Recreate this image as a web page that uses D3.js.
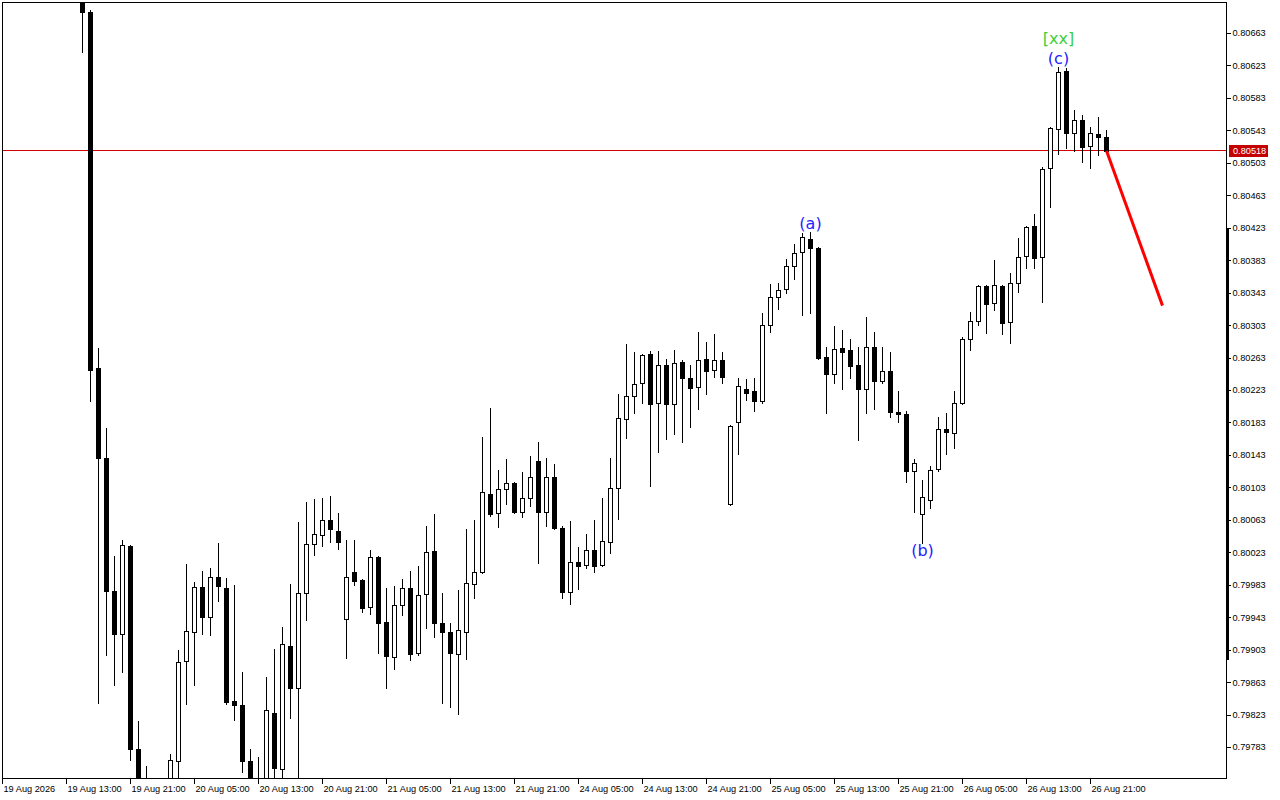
<!DOCTYPE html>
<html><head><meta charset="utf-8">
<script src="https://cdn.jsdelivr.net/npm/d3@7"></script>
<style>html,body{margin:0;padding:0;background:#fff;overflow:hidden}</style>
</head><body>
<svg id="chart" width="1280" height="800"></svg>
<script>
// ---- data (H1 bars, first drawn bar is index 10; index 0 = 19 Aug 05:00) ----
const firstBar = 10;
const open = [
0.80716,0.80689,0.80250,0.80139,0.79975,0.79922,0.80031,0.79780,0.79730,0.79718,
0.79700,0.79730,0.79766,0.79889,0.79925,0.79980,0.79943,0.79992,0.79979,0.79840,
0.79835,0.79766,0.79720,0.79730,0.79825,0.79756,0.79907,0.79856,0.79973,0.80033,
0.80044,0.80063,0.80049,0.79941,0.79999,0.79989,0.79956,0.80017,0.79937,0.79894,
0.79958,0.79979,0.79899,0.79972,0.80025,0.79936,0.79925,0.79898,0.79925,0.79984,
0.79999,0.80095,0.80071,0.80101,0.80108,0.80073,0.80090,0.80135,0.80073,0.80116,
0.80053,0.79974,0.80011,0.80007,0.80026,0.80007,0.80036,0.80102,0.80187,0.80216,
0.80232,0.80267,0.80207,0.80254,0.80206,0.80258,0.80238,0.80227,0.80261,0.80248,
0.80260,0.80082,0.80184,0.80224,0.80222,0.80209,0.80303,0.80338,0.80347,0.80376,
0.80393,0.80409,0.80398,0.80264,0.80243,0.80275,0.80272,0.80254,0.80224,0.80276,
0.80234,0.80246,0.80196,0.80193,0.80123,0.80070,0.80087,0.80126,0.80175,0.80170,
0.80207,0.80286,0.80308,0.80351,0.80330,0.80351,0.80307,0.80355,0.80388,0.80425,
0.80387,0.80497,0.80545,0.80616,0.80540,0.80556,0.80524,0.80538,0.80535];
const high = [
0.80728,0.80691,0.80275,0.80176,0.80018,0.80038,0.80032,0.79815,0.79760,0.79735,
0.79738,0.79774,0.79903,0.80009,0.79986,0.80000,0.80004,0.80034,0.79991,0.79983,
0.79875,0.79780,0.79771,0.79869,0.79904,0.79931,0.79984,0.80060,0.80085,0.80089,
0.80090,0.80092,0.80071,0.80038,0.80038,0.79990,0.80026,0.80018,0.79979,0.79981,
0.79990,0.80000,0.80006,0.80055,0.80070,0.79973,0.79936,0.79977,0.80052,0.80063,
0.80165,0.80201,0.80124,0.80138,0.80109,0.80122,0.80142,0.80159,0.80139,0.80132,
0.80055,0.80062,0.80030,0.80045,0.80063,0.80090,0.80139,0.80218,0.80280,0.80270,
0.80267,0.80271,0.80271,0.80261,0.80272,0.80260,0.80254,0.80294,0.80282,0.80292,
0.80270,0.80180,0.80238,0.80237,0.80238,0.80318,0.80354,0.80355,0.80384,0.80403,
0.80416,0.80418,0.80399,0.80276,0.80302,0.80297,0.80286,0.80276,0.80313,0.80294,
0.80276,0.80270,0.80222,0.80197,0.80138,0.80112,0.80129,0.80190,0.80195,0.80222,
0.80288,0.80319,0.80352,0.80352,0.80383,0.80352,0.80367,0.80410,0.80425,0.80440,
0.80498,0.80547,0.80621,0.80620,0.80568,0.80562,0.80547,0.80559,0.80543];
const low = [
0.80640,0.80209,0.79837,0.79896,0.79859,0.79875,0.79767,0.79705,0.79693,0.79690,
0.79685,0.79715,0.79736,0.79836,0.79859,0.79922,0.79921,0.79963,0.79836,0.79816,
0.79752,0.79718,0.79705,0.79718,0.79736,0.79740,0.79819,0.79730,0.79940,0.80020,
0.80031,0.80036,0.80027,0.79893,0.79983,0.79949,0.79947,0.79899,0.79856,0.79879,
0.79946,0.79890,0.79896,0.79930,0.79919,0.79837,0.79832,0.79824,0.79892,0.79967,
0.79997,0.80068,0.80054,0.80082,0.80071,0.80066,0.80080,0.80010,0.80055,0.80052,
0.79967,0.79959,0.79978,0.80004,0.79999,0.80006,0.80022,0.80064,0.80164,0.80195,
0.80207,0.80105,0.80147,0.80163,0.80169,0.80159,0.80177,0.80200,0.80218,0.80239,
0.80232,0.80081,0.80144,0.80211,0.80197,0.80207,0.80294,0.80323,0.80343,0.80360,
0.80315,0.80318,0.80261,0.80195,0.80232,0.80224,0.80238,0.80161,0.80195,0.80200,
0.80232,0.80190,0.80184,0.80110,0.80073,0.80034,0.80078,0.80123,0.80144,0.80151,
0.80206,0.80272,0.80303,0.80293,0.80322,0.80292,0.80281,0.80344,0.80373,0.80373,
0.80331,0.80449,0.80514,0.80521,0.80518,0.80504,0.80497,0.80513,0.80517];
const close = [
0.80689,0.80248,0.80139,0.79975,0.79922,0.80032,0.79780,0.79718,0.79718,0.79700,
0.79725,0.79767,0.79888,0.79926,0.79980,0.79943,0.79992,0.79981,0.79838,0.79835,
0.79766,0.79730,0.79740,0.79829,0.79757,0.79910,0.79856,0.79973,0.80033,0.80045,
0.80063,0.80052,0.80036,0.79992,0.79988,0.79954,0.80017,0.79936,0.79895,0.79958,
0.79979,0.79898,0.79970,0.80023,0.79936,0.79925,0.79899,0.79927,0.79985,0.79999,
0.80097,0.80070,0.80101,0.80108,0.80073,0.80090,0.80116,0.80073,0.80116,0.80053,
0.79974,0.80011,0.80006,0.80026,0.80006,0.80037,0.80102,0.80189,0.80216,0.80230,
0.80266,0.80206,0.80254,0.80206,0.80256,0.80238,0.80225,0.80260,0.80246,0.80260,
0.80239,0.80179,0.80228,0.80219,0.80209,0.80303,0.80338,0.80346,0.80376,0.80392,
0.80412,0.80398,0.80262,0.80243,0.80273,0.80270,0.80253,0.80224,0.80276,0.80234,
0.80246,0.80196,0.80193,0.80123,0.80133,0.80091,0.80124,0.80175,0.80171,0.80207,
0.80286,0.80308,0.80351,0.80329,0.80352,0.80306,0.80355,0.80387,0.80424,0.80386,
0.80495,0.80546,0.80615,0.80540,0.80556,0.80522,0.80540,0.80535,0.80518];

const timeTickBars = [0,8,16,24,32,40,48,56,64,72,80,88,96,104,112,120,128,136];
const timeTickLabels = ["19 Aug 2026","19 Aug 13:00","19 Aug 21:00","20 Aug 05:00","20 Aug 13:00",
  "20 Aug 21:00","21 Aug 05:00","21 Aug 13:00","21 Aug 21:00","24 Aug 05:00","24 Aug 13:00",
  "24 Aug 21:00","25 Aug 05:00","25 Aug 13:00","25 Aug 21:00","26 Aug 05:00","26 Aug 13:00","26 Aug 21:00"];
const priceTicks = [0.79783,0.79823,0.79863,0.79903,0.79943,0.79983,0.80023,0.80063,0.80103,0.80143,
  0.80183,0.80223,0.80263,0.80303,0.80343,0.80383,0.80423,0.80463,0.80503,0.80543,0.80583,0.80623,0.80663];
const lastPrice = 0.80518;
const projBars = [138, 145];
const projPrices = [0.80518, 0.80327];
const waveTexts = ["(a)","(b)","(c)","[xx]"];
const waveBars = [101,115,132,132];
const wavePrices = [0.80428,0.80025,0.80631,0.80656];

// ---- drawing ----
const svg = d3.select("#chart");
const L = 2, R = 1227, T = 2, B = 778;
const barW = 8;
const x = d3.scaleLinear().domain([0, (R - L) / barW]).range([L, R]);
const y = d3.scaleLinear().domain([priceTicks[0], priceTicks[priceTicks.length-1]]).range([747, 33]);
const axisFont = "'Liberation Sans', Arial, sans-serif";

svg.append("rect").attr("width",1280).attr("height",800).attr("fill","#fff");
svg.append("clipPath").attr("id","plot").append("rect")
  .attr("x",L+1).attr("y",T+1).attr("width",R-L-2).attr("height",B-T-1);

const bars = d3.range(open.length).map(k => ({
  i: firstBar + k, o: open[k], h: high[k], l: low[k], c: close[k]
}));

const g = svg.append("g").attr("clip-path","url(#plot)");

// current price line
const yLast = Math.floor(y(lastPrice)) + 0.5;
g.append("line").attr("x1",L).attr("x2",R).attr("y1",yLast).attr("y2",yLast)
  .attr("stroke","#d40000").attr("stroke-width",1);

const cg = g.append("g").attr("shape-rendering","crispEdges");
bars.forEach(d => {
  const cx = Math.round(x(d.i));
  const yh = Math.round(y(d.h)), yl = Math.round(y(d.l));
  cg.append("rect").attr("x",cx).attr("y",yh).attr("width",1).attr("height",Math.max(1,yl-yh+1)).attr("fill","#000");
  const top = Math.round(y(Math.max(d.o,d.c))), bot = Math.round(y(Math.min(d.o,d.c)));
  if (d.c < d.o) {
    cg.append("rect").attr("x",cx-2).attr("y",top).attr("width",5).attr("height",Math.max(1,bot-top+1)).attr("fill","#000");
  } else if (bot - top < 1) {
    cg.append("rect").attr("x",cx-2).attr("y",top).attr("width",5).attr("height",1).attr("fill","#000");
  } else {
    cg.append("rect").attr("x",cx-1.5).attr("y",top+0.5).attr("width",4).attr("height",bot-top)
      .attr("fill","#fff").attr("stroke","#000").attr("stroke-width",1);
  }
});

// projection line
g.append("path")
  .datum(projBars.map((b,k)=>[b, projPrices[k]]))
  .attr("d", d3.line().x(d=>x(d[0])+0.5).y(d=>y(d[1])))
  .attr("fill","none").attr("stroke","#ff0000").attr("stroke-width",3);

// wave labels
const waveColors = ["#2323ff","#2323ff","#2323ff","#3ccf3c"];
waveTexts.forEach((t,k) => {
  g.append("text").attr("x", x(waveBars[k]) + 0.5).attr("y", y(wavePrices[k]))
    .attr("text-anchor","middle").attr("dominant-baseline","central")
    .attr("font-family","'DejaVu Sans', sans-serif").attr("font-size",16)
    .attr("fill", waveColors[k]).text(t);
});

// frame
svg.append("rect").attr("x",L+0.5).attr("y",T+0.5).attr("width",R-L-1).attr("height",B-T)
  .attr("fill","none").attr("stroke","#000").attr("shape-rendering","crispEdges");
svg.append("rect").attr("x",R-1).attr("y",228).attr("width",3).attr("height",432).attr("fill","#000");

// price axis
const ya = svg.append("g").attr("transform",`translate(${R-0.5},0)`)
  .call(d3.axisRight(y).tickValues(priceTicks).tickSize(4).tickPadding(2).tickFormat(d3.format(".5f")));
ya.select(".domain").remove();
ya.selectAll("line").attr("stroke","#000").attr("shape-rendering","crispEdges");
ya.selectAll("text").attr("font-family",axisFont).attr("font-size",9.2).attr("fill","#000");

// last price box
const lp = svg.append("g");
lp.append("rect").attr("x",R+2).attr("y",Math.round(y(lastPrice))-6).attr("width",39).attr("height",12).attr("fill","#c40000");
lp.append("text").attr("x",R+6).attr("y",y(lastPrice)).attr("dy","0.33em")
  .attr("font-family",axisFont).attr("font-size",9.2).attr("fill","#fff").text(d3.format(".5f")(lastPrice));

// time axis
const xa = svg.append("g").attr("transform",`translate(0,${B+0.5})`)
  .call(d3.axisBottom(x).tickValues(timeTickBars).tickSize(5).tickPadding(2)
    .tickFormat((d,k)=>timeTickLabels[k]));
xa.select(".domain").remove();
xa.selectAll(".tick").attr("transform", d => `translate(${Math.round(x(d))+0.5},0)`);
xa.selectAll("line").attr("stroke","#000").attr("shape-rendering","crispEdges");
xa.selectAll("text").attr("text-anchor","start").attr("x",1)
  .attr("font-family",axisFont).attr("font-size",9.2).attr("fill","#000");
</script>
</body></html>
